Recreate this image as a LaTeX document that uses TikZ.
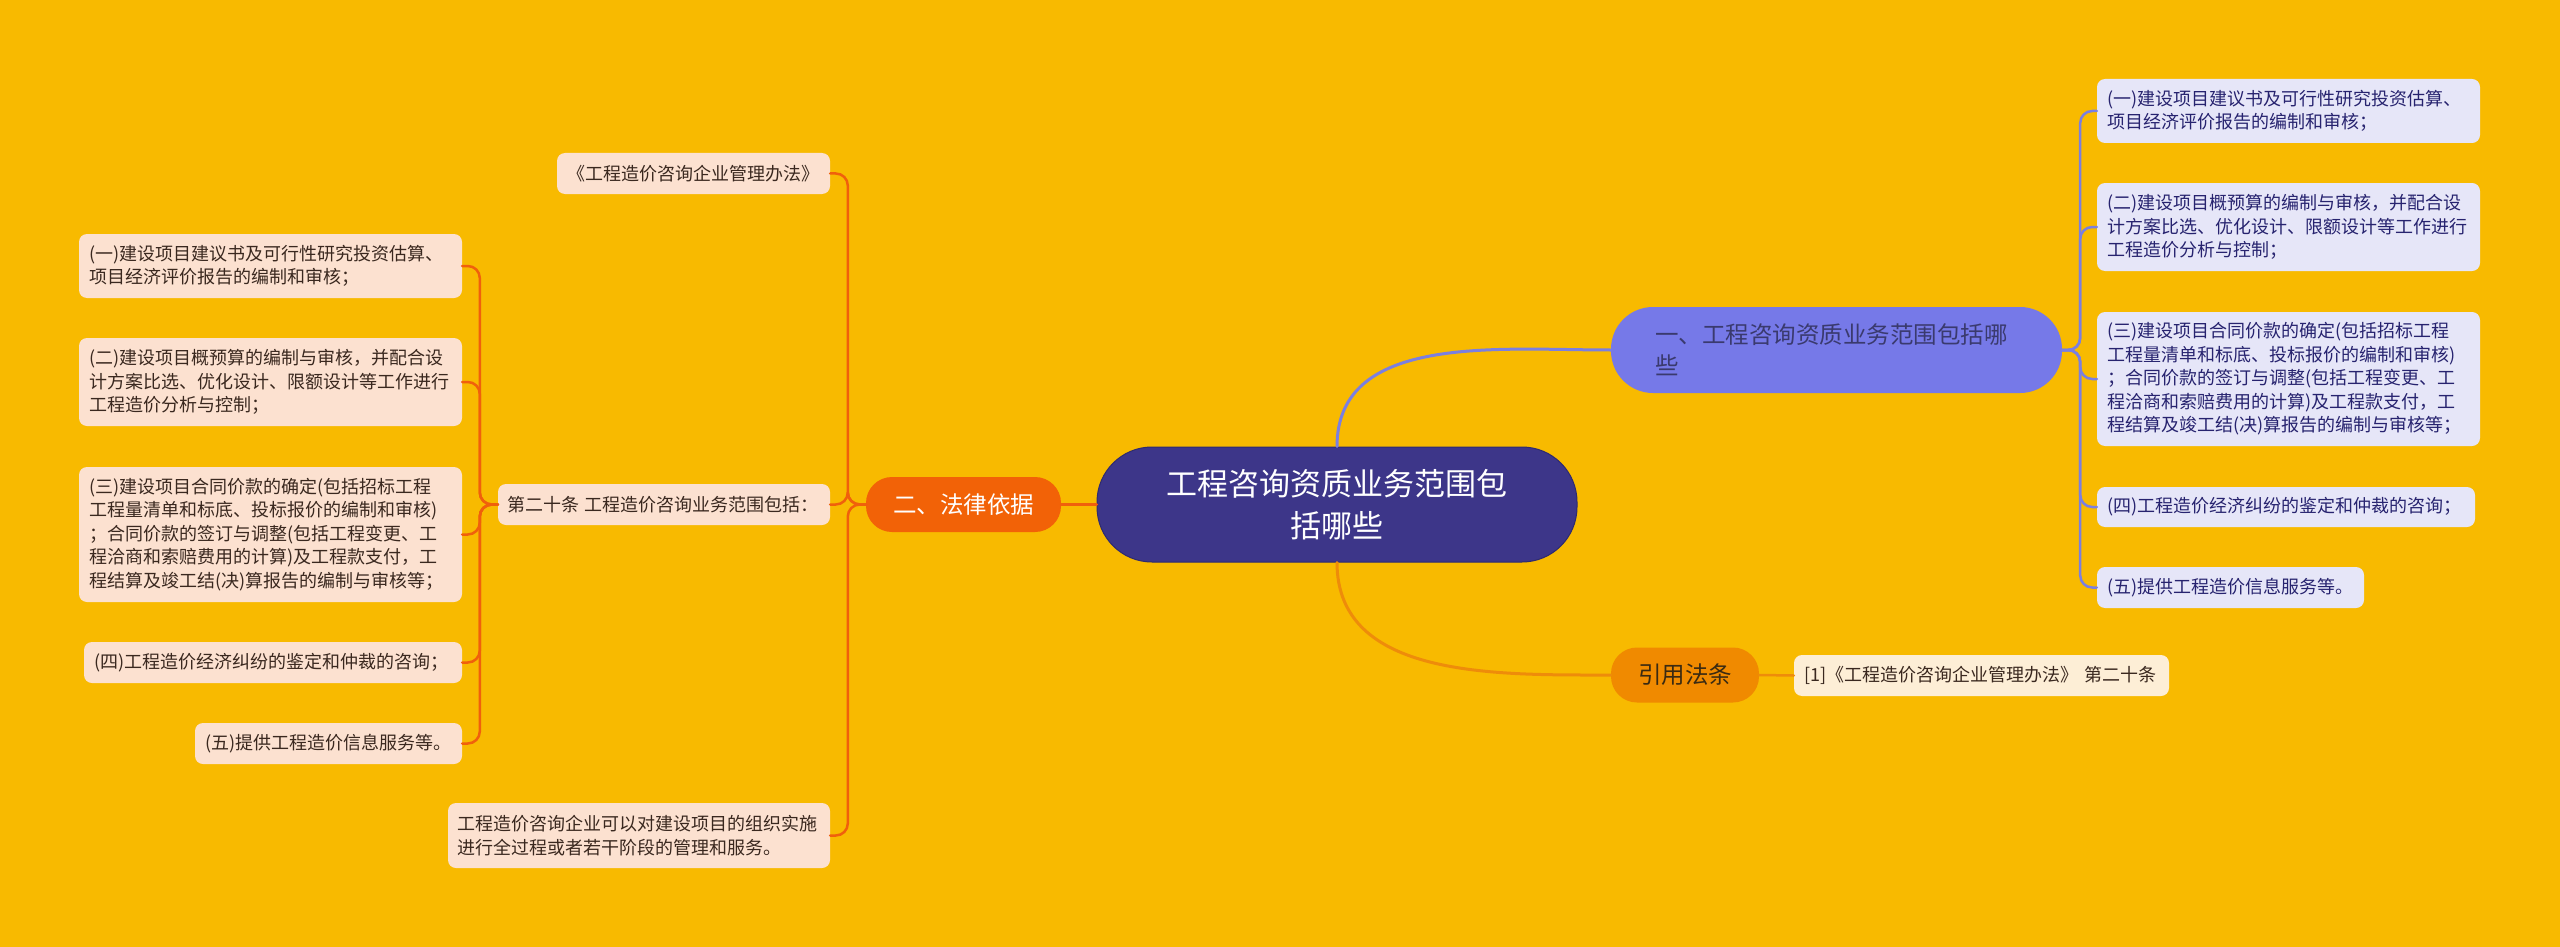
\documentclass[tikz,border=0pt]{standalone}
\usepackage{fontspec}
\setmainfont{Noto Sans CJK SC}
\definecolor{bgfill}{HTML}{F8BA00}
\definecolor{rootfill}{HTML}{3D3689}
\definecolor{rootedge}{HTML}{2E2A70}
\definecolor{onefill}{HTML}{7679E8}
\definecolor{onetext}{HTML}{3A3A6E}
\definecolor{twofill}{HTML}{F26207}
\definecolor{citefill}{HTML}{F08A00}
\definecolor{citetext}{HTML}{3A2A12}
\definecolor{blueleaf}{HTML}{E6E6F8}
\definecolor{bluetext}{HTML}{27236F}
\definecolor{peachleaf}{HTML}{FCE1D0}
\definecolor{browntext}{HTML}{3A281F}
\definecolor{creamleaf}{HTML}{FDEED6}
\definecolor{blueline}{HTML}{7B7FE0}
\definecolor{redline}{HTML}{F0600C}
\definecolor{orgline}{HTML}{EE8C0A}
\begin{document}
\begin{tikzpicture}[line cap=round,line join=round,x=1.0pt,y=-1.0pt,
  leaf/.style={rounded corners=8pt,inner xsep=10pt,inner ysep=5pt,align=left,
    font=\fontsize{18}{23.5}\selectfont},
  bleaf/.style={leaf,fill=blueleaf,text=bluetext},
  pleaf/.style={leaf,fill=peachleaf,text=browntext},
  cleaf/.style={leaf,fill=creamleaf,text=browntext},
  topic/.style={rounded corners=26pt,minimum height=55pt,align=center,
    font=\fontsize{23.5}{31}\selectfont},
  bline/.style={draw=blueline,line width=3pt},
  rline/.style={draw=redline,line width=3pt},
  oline/.style={draw=orgline,line width=3pt},
  twig/.style={line width=2.5pt,rounded corners=12pt}]
\useasboundingbox (0,0) rectangle (2560,947);
\fill [bgfill] (0,0) rectangle (2560,947);
% central topic
\node [draw=rootedge,line width=1pt,fill=rootfill,text=white,rounded corners=55pt,
  minimum width=480pt,minimum height=115pt,align=center,
  font=\fontsize{31}{42}\selectfont] (root) at (1337,504.5)
  {工程咨询资质业务范围包\\括哪些};
% main branches
\node [topic,fill=onefill,text=onetext,rounded corners=42pt,minimum height=86pt,
  text width=363pt,inner xsep=44pt,align=left] (one) at (1836.5,350)
  {一、工程咨询资质业务范围包括哪\\些};
\node [topic,fill=twofill,text=white,minimum width=195pt] (two) at (963.5,504.5) {二、法律依据};
\node [topic,fill=citefill,text=citetext,minimum width=148pt] (cite) at (1685,675) {引用法条};
% right leaves
\node [bleaf,text width=363pt,minimum height=64pt] (r1) at (2288.5,111)
  {(一)建设项目建议书及可行性研究投资估算、\\项目经济评价报告的编制和审核；};
\node [bleaf,text width=363pt,minimum height=88pt] (r2) at (2288.5,227)
  {(二)建设项目概预算的编制与审核，并配合设\\计方案比选、优化设计、限额设计等工作进行\\工程造价分析与控制；};
\node [bleaf,text width=363pt,minimum height=134pt] (r3) at (2288.5,379)
  {(三)建设项目合同价款的确定(包括招标工程\\工程量清单和标底、投标报价的编制和审核)\\；合同价款的签订与调整(包括工程变更、工\\程洽商和索赔费用的计算)及工程款支付，工\\程结算及竣工结(决)算报告的编制与审核等；};
\node [bleaf,text width=358pt,minimum height=40pt] (r4) at (2286,507)
  {(四)工程造价经济纠纷的鉴定和仲裁的咨询；};
\node [bleaf,text width=247pt,minimum height=41pt] (r5) at (2230.5,587.5)
  {(五)提供工程造价信息服务等。};
\node [cleaf,text width=355pt,minimum height=41pt] (ref1) at (1981.5,675.5)
  {[1]《工程造价咨询企业管理办法》 第二十条};
% left leaves
\node [pleaf,text width=253pt,minimum height=41pt] (law) at (693.5,173.5)
  {《工程造价咨询企业管理办法》};
\node [pleaf,text width=314pt,minimum height=41pt,inner xsep=9pt] (art) at (664,504.5)
  {第二十条 工程造价咨询业务范围包括：};
\node [pleaf,text width=364pt,minimum height=65pt,inner xsep=9pt] (firm) at (639,835.5)
  {工程造价咨询企业可以对建设项目的组织实施\\进行全过程或者若干阶段的管理和服务。};
\node [pleaf,text width=363pt,minimum height=64pt] (l1) at (270.5,266)
  {(一)建设项目建议书及可行性研究投资估算、\\项目经济评价报告的编制和审核；};
\node [pleaf,text width=363pt,minimum height=88pt] (l2) at (270.5,382)
  {(二)建设项目概预算的编制与审核，并配合设\\计方案比选、优化设计、限额设计等工作进行\\工程造价分析与控制；};
\node [pleaf,text width=363pt,minimum height=135pt] (l3) at (270.5,534.5)
  {(三)建设项目合同价款的确定(包括招标工程\\工程量清单和标底、投标报价的编制和审核)\\；合同价款的签订与调整(包括工程变更、工\\程洽商和索赔费用的计算)及工程款支付，工\\程结算及竣工结(决)算报告的编制与审核等；};
\node [pleaf,text width=358pt,minimum height=41pt] (l4) at (273,662.5)
  {(四)工程造价经济纠纷的鉴定和仲裁的咨询；};
\node [pleaf,text width=247pt,minimum height=41pt] (l5) at (328.5,743.5)
  {(五)提供工程造价信息服务等。};
% connectors
\draw [bline] (root.north) to[out=90,in=180] (one.west);
\draw [oline] (root.south) to[out=-90,in=180] (cite.west);
\draw [rline] (root.west) -- (two.east);
\draw [oline,line width=2.5pt] (cite.east) -- (ref1.west);
\foreach \leaf in {r1,r2,r3,r4,r5}
  \draw [bline,twig] (one.east) -- ++(18,0) |- (\leaf.west);
\foreach \leaf in {law,art,firm}
  \draw [rline,twig] (two.west) -- ++(-18,0) |- (\leaf.east);
\foreach \leaf in {l1,l2,l3,l4,l5}
  \draw [rline,twig] (art.west) -- ++(-18,0) |- (\leaf.east);
\end{tikzpicture}
\end{document}
